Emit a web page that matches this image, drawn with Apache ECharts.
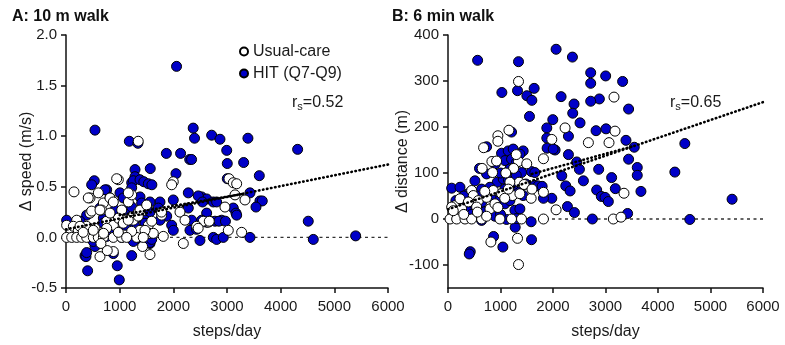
<!DOCTYPE html>
<html><head><meta charset="utf-8">
<script src="https://cdn.jsdelivr.net/npm/echarts@6/dist/echarts.min.js"></script>
<style>html,body{margin:0;padding:0;background:#fff}#c{width:785px;height:345px}</style>
</head><body><div id="c"></div>
<script>
// ---- Data ----
const xTicks = [0, 1000, 2000, 3000, 4000, 5000, 6000];
const yTicksA = [-0.5, 0, 0.5, 1.0, 1.5, 2.0];
const yTicksB = [-100, 0, 100, 200, 300, 400];

// Panel A: 10 m walk, Δ speed (m/s)
const hitA = [
[2060,1.69],[540,1.06],[1180,0.95],[1340,0.93],[2370,1.08],[2395,0.98],[2714,1.01],[2869,0.97],[3390,0.98],[4316,0.87],
[1870,0.83],[2135,0.83],[2995,0.86],[2305,0.77],[2340,0.77],[3005,0.73],[3310,0.74],[2049,0.63],[1286,0.67],[1570,0.68],
[1286,0.60],[1224,0.54],[1255,0.56],[1379,0.57],[1450,0.55],[1534,0.53],[1600,0.52],[527,0.56],[478,0.52],[3602,0.61],
[3005,0.58],[1224,0.49],[758,0.47],[1006,0.44],[1068,0.39],[1379,0.40],[1410,0.34],[633,0.29],[1565,0.25],[12,0.17],
[385,0.22],[1317,0.19],[1472,0.17],[696,0.19],[261,0.16],[602,0.01],[1038,0.0],[1379,-0.02],[1565,-0.06],[354,-0.18],
[540,-0.09],[1224,-0.18],[403,-0.33],[993,-0.42],[955,-0.28],[372,-0.19],[385,-0.15],[881,-0.16],
[3428,0.44],[3614,0.36],[3657,0.36],[3540,0.30],[2528,0.40],[2621,0.38],[2745,0.35],[2807,0.35],[3117,0.29],[3167,0.24],
[2621,0.24],[2528,0.17],[2683,0.16],[2776,0.16],[2901,0.17],[4514,0.16],[2745,0.00],[2807,-0.02],[2931,0.00],[3428,0.00],
[4608,-0.02],[5397,0.015],[1751,0.35],[2279,0.44],[2465,0.41],[1999,0.37],[1565,0.35],[1720,0.29],[1876,0.21],[2279,0.29],
[3180,0.22],[2341,0.17],[1969,0.12],[1999,0.07],[2310,0.07],[2496,-0.03],[1565,-0.05],[2620,0.15],[2848,0.16],[2971,0.16],
[2543,0.35],[2432,0.08],[913,0.27],[1099,0.27],[1224,0.30],[696,0.14],[882,0.09],[1099,0.12],[1286,0.11],[1472,0.14],
[1751,0.17],[509,-0.04],[758,0.01],[1255,-0.04],[1597,-0.02],[820,0.39],[726,0.47]
];
const ucA = [
[149,0.45],[447,0.39],[602,0.44],[975,0.57],[696,0.34],[820,0.39],[882,0.35],[665,0.27],[1038,0.27],[1162,0.35],
[1224,0.42],[1348,0.25],[447,0.24],[199,0.17],[12,0.12],[137,0.11],[230,0.07],[385,0.11],[540,0.09],[758,0.16],
[882,0.12],[975,0.19],[1068,0.14],[1255,0.17],[1379,0.07],[1534,0.12],[1441,0.01],
[12,0],[106,0],[199,0],[292,0],[385,0],[509,0],[602,0],[696,0],[882,0],[1038,0],[1317,0],[1565,0.04],
[633,-0.19],[882,-0.14],[1565,-0.17],[1346,0.95],[769,-0.13],[1427,-0.09],[651,-0.06],
[3037,0.58],[3117,0.54],[3180,0.53],[3149,0.42],[3335,0.37],[2962,0.30],[2651,0.15],[3024,0.07],[3273,0.05],
[1999,0.55],[1969,0.52],[2124,0.25],[1783,0.22],[2217,0.17],[2558,0.16],[2670,0.16],[2434,0.11],[1597,0.16],
[1627,0.04],[1813,0.01],[2186,-0.06],[1780,0.25],[2463,0.09],
[415,0.39],[944,0.58],[1161,0.44],[478,0.26],[633,0.27],[820,0.24],[1161,0.17],[1348,0.21],[261,0.11],[509,0.07],
[758,0.09],[1224,0.06],[1472,0.07],[1379,0.27],[1503,0.32],[975,0.05],[1130,0.0],[1440,0.0],[320,0.05],[700,0.04]
];
const fitA = [[0, 0.08], [6000, 0.72]];
const fitA2 = [[1000, 0.22], [3300, 0.43]];
const zeroA = [[0, 0], [6000, 0]];

// Panel B: 6 min walk, Δ distance (m)
const hitB = [
[564,345],[1343,342],[2059,369],[2370,352],[1026,275],[1324,279],[1502,268],[1641,284],[1597,258],[1552,223],
[2154,266],[2718,318],[2718,295],[3003,311],[3326,299],[2883,261],[2718,256],[2401,250],[2376,230],[3440,239],
[1996,216],[1882,198],[2820,192],[3010,196],[2515,209],[1882,176],[2040,150],[1888,154],[2003,152],[2294,180],
[2294,140],[3390,171],[3548,156],[4511,164],[4321,102],[2452,124],[2503,108],[2870,108],[2167,94],[2579,83],
[3440,130],[3605,112],[3605,95],[3675,60],[3117,90],[3187,66],[2832,63],[2921,49],[2991,47],[3054,38],
[2243,72],[2326,61],[2275,27],[2408,14],[3421,12],[2750,0],[4606,-1],[5411,43],[1977,45],[1818,45],
[1584,-6],[1591,-45],[1045,-61],[868,-38],[424,-71],[405,-76],[1280,-18],
[1210,189],[735,157],[1020,143],[1147,148],[1242,152],[1432,148],[1084,127],[1210,130],[1305,123],[1369,141],
[1179,109],[1400,101],[1591,103],[735,98],[513,83],[938,80],[1052,87],[1483,76],[1654,73],[70,67],
[228,69],[640,65],[799,69],[1084,65],[387,55],[1432,51],[260,33],[482,31],[640,36],[957,40],
[1084,33],[1179,40],[355,19],[703,16],[1274,19],[1369,22],[640,-3],[894,6],[1115,-1],[1305,1],
[1654,101],[1717,72],[1793,71],[150,40],[300,50],[560,50],[820,50],[600,110],[900,120],[1000,100],
[1150,85],[1300,95],[450,10],[1000,10],[1350,60],[1250,75]
];
const ucB = [
[1343,299],[3162,265],[2230,198],[3181,191],[2674,166],[3067,166],[1977,173],[950,181],[950,169],[678,155],
[1160,193],[836,125],[1343,125],[1818,131],[3352,56],[2059,20],[3149,0],[3295,4],[1818,0],[817,-50],
[1324,-42],[1343,-99],[1584,45],[1818,58],
[849,101],[1356,80],[450,62],[482,51],[133,29],[228,44],[387,37],[577,40],[735,47],[862,62],
[1020,55],[1179,80],[1229,51],[545,26],[799,22],[894,33],[1369,55],[38,0],[165,0],[323,0],
[450,0],[640,0],[989,0],[1210,0],[1400,0],[260,22],[735,6],[70,26],
[100,18],[560,15],[950,25],[1080,45],[1150,65],[1450,75],[700,60],[300,10],[1600,65],[1250,110],
[1100,100],[1500,120],[1300,140],[650,110],[925,126]
];
const fitB = [[0, 21], [6000, 254]];
const fitB2 = [[1600, 98], [3550, 159]];
const zeroB = [[0, 0], [6000, 0]];

// ---- Chart ----
const FONT = '"Liberation Sans", Arial, sans-serif';
const BLUE = '#0000c8';
const chart = echarts.init(document.getElementById('c'), null, {renderer: 'canvas'});

function xAxis(gi) {
  return {
    type: 'value', gridIndex: gi, min: 0, max: 6000, interval: 1000,
    name: 'steps/day', nameLocation: 'middle', nameGap: 36, nameMoveOverlap: false,
    nameTextStyle: {fontFamily: FONT, fontSize: 16, color: '#1a1a1a'},
    axisLine: {show: true, onZero: false, lineStyle: {color: '#111', width: 1.5}},
    axisTick: {show: true, inside: false, length: 5, lineStyle: {color: '#111', width: 1.5}},
    axisLabel: {fontFamily: FONT, fontSize: 15, color: '#1a1a1a', margin: 11,
                customValues: xTicks, formatter: v => String(v)},
    splitLine: {show: false}
  };
}
function scatter(name, data, gi, filled) {
  return {
    type: 'scatter', name: name, xAxisIndex: gi, yAxisIndex: gi, data: data,
    symbol: 'circle', symbolSize: 10, z: 3,
    itemStyle: {color: filled ? BLUE : '#fff', borderColor: '#000', borderWidth: 1, opacity: 1},
    emphasis: {disabled: true}, silent: true
  };
}
function line(data, gi, dotted, z) {
  return {
    type: 'line', xAxisIndex: gi, yAxisIndex: gi, data: data, symbol: 'none', z: z,
    silent: true, animation: false,
    lineStyle: dotted
      ? {color: '#000', width: 2.6, type: [0.5, 3.6], cap: 'round'}
      : {color: '#333', width: 1.4, type: [3, 3.5]}
  };
}

const option = {
  animation: false,
  backgroundColor: '#fff',
  textStyle: {fontFamily: FONT},
  grid: [
    {left: 66, top: 35, width: 322, height: 253},
    {left: 448, top: 35, width: 315, height: 253}
  ],
  xAxis: [xAxis(0), xAxis(1)],
  yAxis: [
    {type: 'value', gridIndex: 0, min: -0.5, max: 2.0, interval: 0.5,
     name: 'Δ speed (m/s)', nameLocation: 'middle', nameGap: 31, nameMoveOverlap: false,
     nameTextStyle: {fontFamily: FONT, fontSize: 16, color: '#1a1a1a'},
     axisLine: {show: true, onZero: false, lineStyle: {color: '#111', width: 1.5}},
     axisTick: {show: true, length: 5, lineStyle: {color: '#111', width: 1.5}},
     axisLabel: {fontFamily: FONT, fontSize: 15, color: '#1a1a1a', margin: 9,
                 customValues: yTicksA,
                 formatter: v => v.toFixed(1)},
     splitLine: {show: false}},
    {type: 'value', gridIndex: 1, min: -150, max: 400, interval: 50,
     name: 'Δ distance (m)', nameLocation: 'middle', nameGap: 37, nameMoveOverlap: false,
     nameTextStyle: {fontFamily: FONT, fontSize: 16, color: '#1a1a1a'},
     axisLine: {show: true, onZero: false, lineStyle: {color: '#111', width: 1.5}},
     axisTick: {show: true, length: 5, lineStyle: {color: '#111', width: 1.5}, customValues: yTicksB},
     axisLabel: {fontFamily: FONT, fontSize: 15, color: '#1a1a1a', margin: 9, customValues: yTicksB},
     splitLine: {show: false}}
  ],
  legend: {
    data: ['Usual-care', 'HIT (Q7-Q9)'],
    orient: 'vertical', left: 234, top: 38, itemWidth: 8, itemHeight: 8, itemGap: 5,
    icon: 'circle', selectedMode: false,
    textStyle: {fontFamily: FONT, fontSize: 16, color: '#1a1a1a', padding: [0,0,0,0], lineHeight: 17}
  },
  graphic: [
    {type: 'text', left: 12, top: 9, style: {text: 'A: 10 m walk', font: 'bold 16px ' + FONT, fill: '#111'}},
    {type: 'text', left: 392, top: 9, style: {text: 'B: 6 min walk', font: 'bold 16px ' + FONT, fill: '#111'}},
    {type: 'text', left: 292, top: 95, style: {
      text: '{a|r}{s|s}{a|=0.52}',
      rich: {a: {fontFamily: FONT, fontSize: 16, fill: '#1a1a1a'},
             s: {fontFamily: FONT, fontSize: 11, fill: '#1a1a1a', padding: [8, 0, 0, 0]}}}},
    {type: 'text', left: 670, top: 95, style: {
      text: '{a|r}{s|s}{a|=0.65}',
      rich: {a: {fontFamily: FONT, fontSize: 16, fill: '#1a1a1a'},
             s: {fontFamily: FONT, fontSize: 11, fill: '#1a1a1a', padding: [8, 0, 0, 0]}}}}
  ],
  series: [
    line(zeroA, 0, false, 1),
    scatter('HIT (Q7-Q9)', hitA, 0, true),
    scatter('Usual-care', ucA, 0, false),
    line(fitA, 0, true, 5),
    line(fitA2, 0, true, 5),
    line(zeroB, 1, false, 1),
    scatter('HIT (Q7-Q9)', hitB, 1, true),
    scatter('Usual-care', ucB, 1, false),
    line(fitB, 1, true, 5),
    line(fitB2, 1, true, 5)
  ]
};
chart.setOption(option);
</script>
</body></html>
